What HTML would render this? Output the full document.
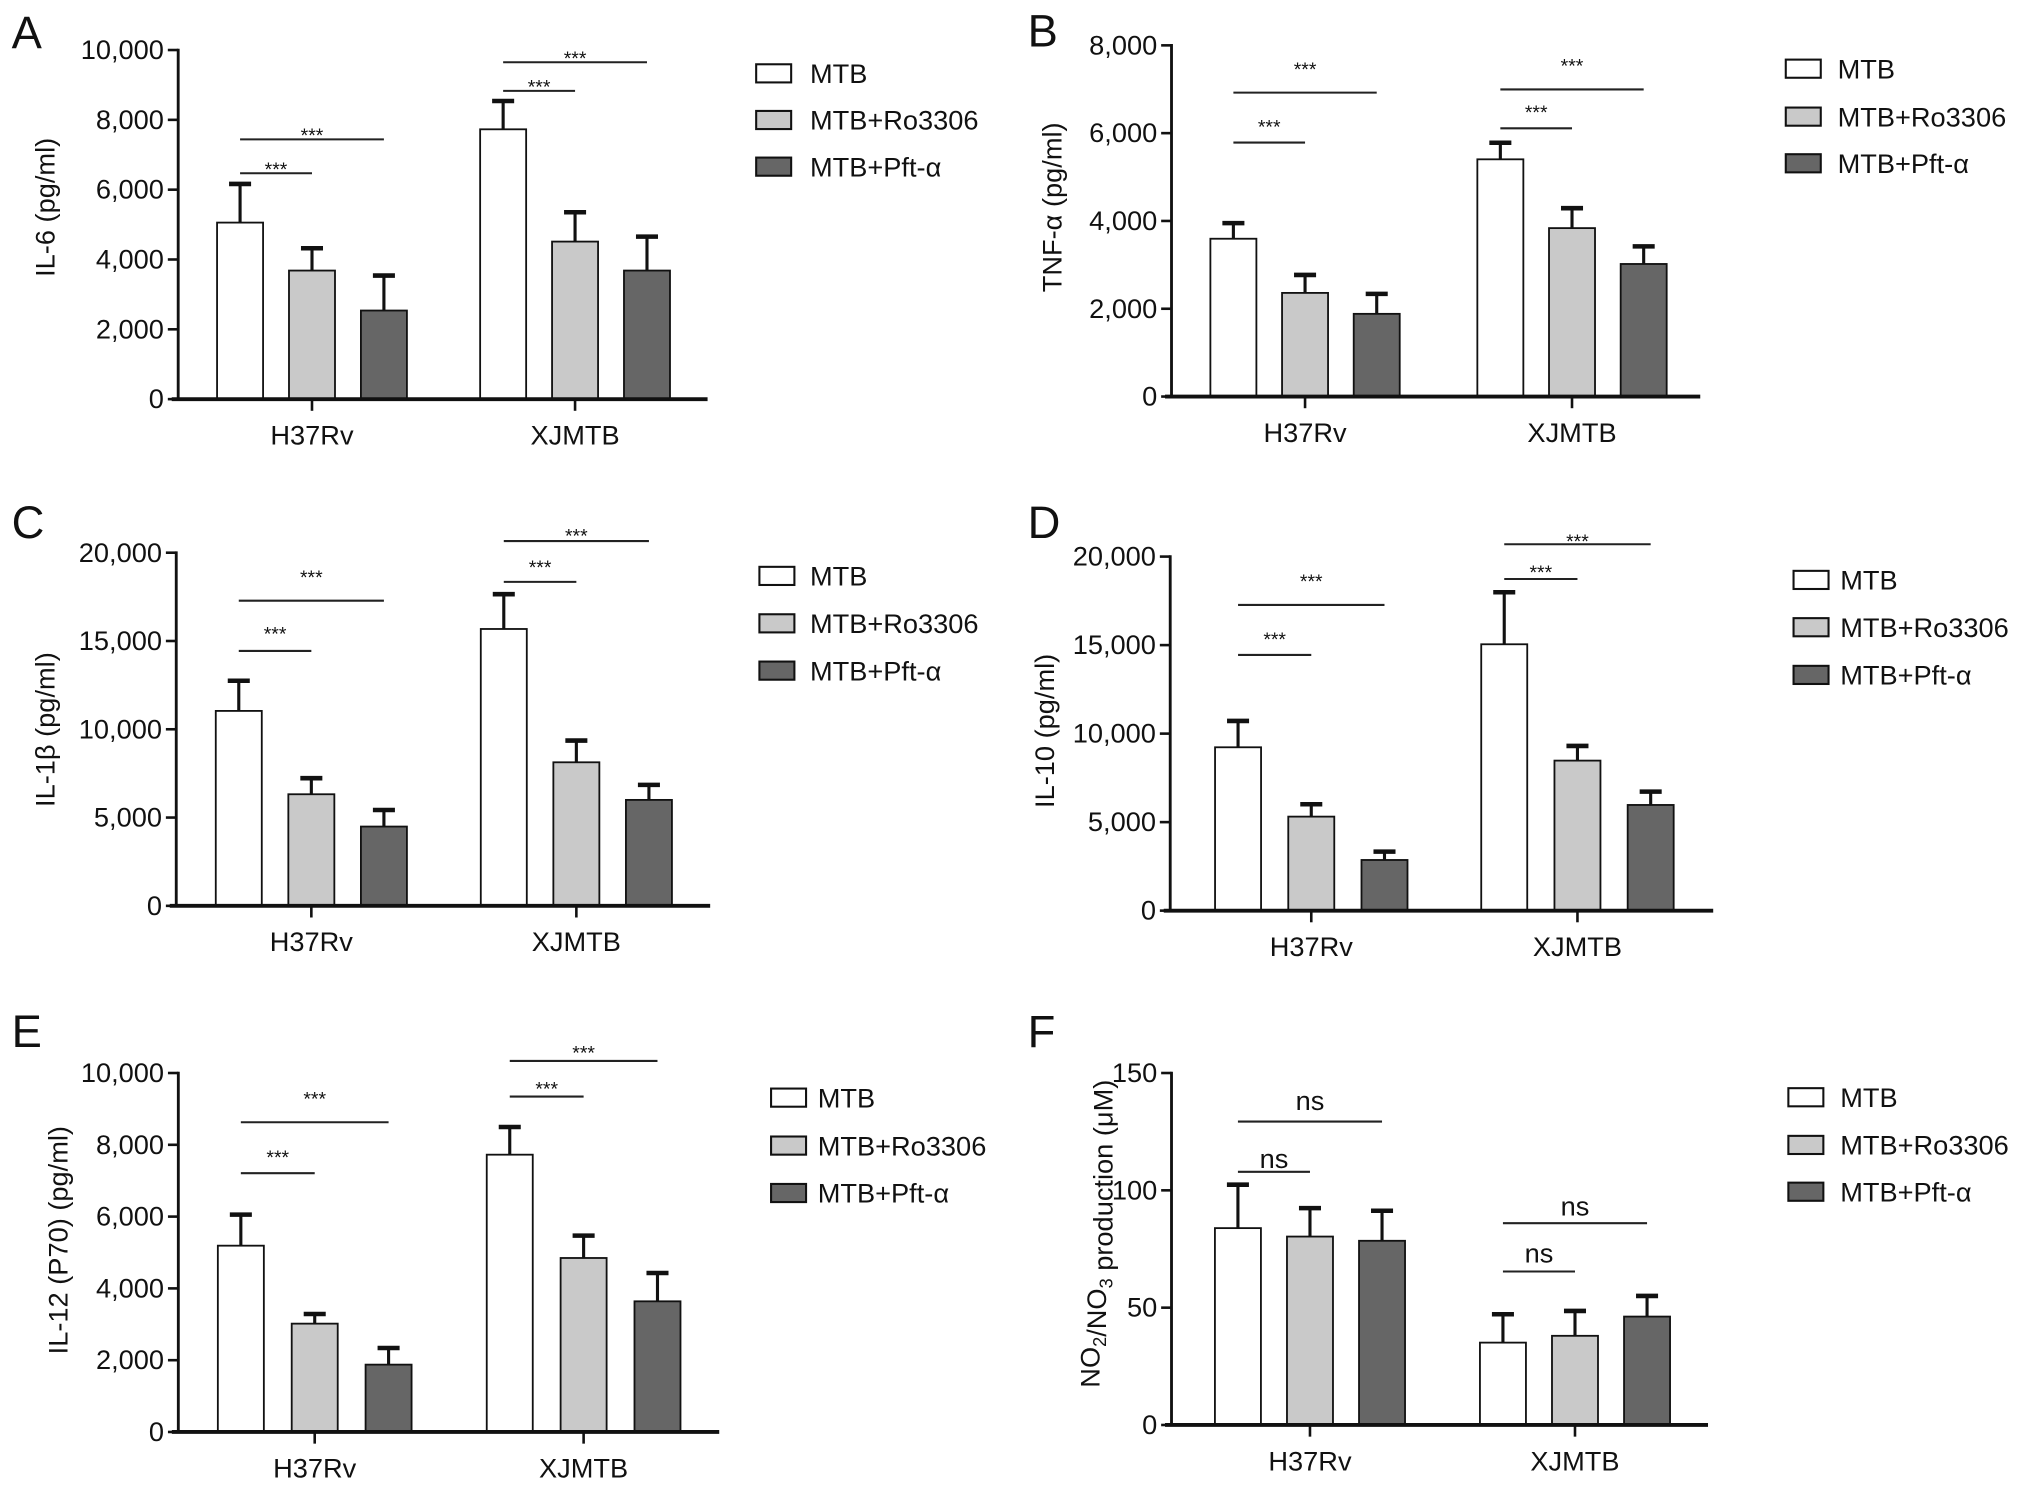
<!DOCTYPE html>
<html><head><meta charset="utf-8"><style>
html,body{margin:0;padding:0;background:#fff;}
svg{display:block;}
text{font-family:"Liberation Sans",Arial,sans-serif;fill:#111;}
</style></head><body>
<svg id="fig" width="2032" height="1489" viewBox="0 0 1568 1149" preserveAspectRatio="none" xmlns="http://www.w3.org/2000/svg"></svg>
<script>
// ---- shared categories ----
const groups = ["H37Rv", "XJMTB"];
const seriesNames = ["MTB", "MTB+Ro3306", "MTB+Pft-\u03b1"];

// ---- Panel A: IL-6 ----
const valsA = [[5057, 3683, 2538], [7729, 4513, 3683]];
const errA = [[1107, 640, 1002], [811, 840, 973]];
const tickValsA = [0, 2000, 4000, 6000, 8000, 10000];
const tickLabA = ["0", "2,000", "4,000", "6,000", "8,000", "10,000"];
const sigA = [[0, 1, 6470, "***"], [0, 2, 7440, "***"], [1, 1, 8830, "***"], [1, 2, 9650, "***"]];

// ---- Panel B: TNF-a ----
const valsB = [[3595, 2361, 1884], [5404, 3837, 3020]];
const errB = [[355, 409, 454], [377, 454, 401]];
const tickValsB = [0, 2000, 4000, 6000, 8000];
const tickLabB = ["0", "2,000", "4,000", "6,000", "8,000"];
const sigB = [[0, 1, 5786, "***"], [0, 2, 6923, "***"], [1, 1, 6110, "***"], [1, 2, 6996, "***"]];

// ---- Panel C: IL-1b ----
const valsC = [[11040, 6320, 4490], [15680, 8130, 6000]];
const errC = [[1710, 910, 940], [1970, 1230, 850]];
const tickValsC = [0, 5000, 10000, 15000, 20000];
const tickLabC = ["0", "5,000", "10,000", "15,000", "20,000"];
const sigC = [[0, 1, 14437, "***"], [0, 2, 17284, "***"], [1, 1, 18349, "***"], [1, 2, 20660, "***"]];

// ---- Panel D: IL-10 ----
const valsD = [[9228, 5311, 2862], [15047, 8475, 5970]];
const errD = [[1488, 697, 471], [2938, 828, 753]];
const tickValsD = [0, 5000, 10000, 15000, 20000];
const tickLabD = ["0", "5,000", "10,000", "15,000", "20,000"];
const sigD = [[0, 1, 14444, "***"], [0, 2, 17270, "***"], [1, 1, 18734, "***"], [1, 2, 20696, "***"]];

// ---- Panel E: IL-12 ----
const valsE = [[5190, 3018, 1876], [7725, 4847, 3640]];
const errE = [[864, 269, 464], [771, 622, 789]];
const tickValsE = [0, 2000, 4000, 6000, 8000, 10000];
const tickLabE = ["0", "2,000", "4,000", "6,000", "8,000", "10,000"];
const sigE = [[0, 1, 7210, "***"], [0, 2, 8628, "***"], [1, 1, 9343, "***"], [1, 2, 10336, "***"]];

// ---- Panel F: NO2/NO3 ----
const valsF = [[83.9, 80.3, 78.5], [35.1, 38.0, 46.2]];
const errF = [[18.5, 12.1, 12.8], [12.1, 10.6, 8.8]];
const tickValsF = [0, 50, 100, 150];
const tickLabF = ["0", "50", "100", "150"];
const sigF = [[0, 1, 107.9, "ns"], [0, 2, 129.3, "ns"], [1, 1, 65.4, "ns"], [1, 2, 86, "ns"]];

const NS = "http://www.w3.org/2000/svg";
const svg = document.getElementById("fig");
function mk(tag, attrs, parent) {
  const e = document.createElementNS(NS, tag);
  for (const k in attrs) e.setAttribute(k, attrs[k]);
  (parent || svg).appendChild(e);
  return e;
}
const fills = ["#ffffff", "#c9c9c9", "#666666"];

const panels = [
  {id:"a", letter:"A", lx:9, ly:37, ax:137.5, y0:308, yT:38.6, max:10000, b0:30, xj:233, step:55.5, end:546,
   vals:valsA, err:errA, tv:tickValsA, tl:tickLabA, sig:sigA, sigOff:[6,6,6,6], title:"IL-6 (pg/ml)", tx:35, ty:160,
   legX:583.5, legY:[56.6, 92.6, 128.6], legTX:625},
  {id:"b", letter:"B", lx:793, ly:36, ax:904, y0:306, yT:35, max:8000, b0:30, xj:236, step:55.3, end:1312,
   vals:valsB, err:errB, tv:tickValsB, tl:tickLabB, sig:sigB, sigOff:[15,21,15,21], title:"TNF-\u03b1 (pg/ml)", tx:812, ty:160,
   legX:1378, legY:[53, 90, 126], legTX:1418},
  {id:"c", letter:"C", lx:9, ly:415, ax:136, y0:699, yT:426.5, max:20000, b0:30.5, xj:235, step:56, end:548,
   vals:valsC, err:errC, tv:tickValsC, tl:tickLabC, sig:sigC, sigOff:[16,21,14,7], title:"IL-1\u03b2 (pg/ml)", tx:35, ty:563,
   legX:586, legY:[444.4, 481, 517.5], legTX:625},
  {id:"d", letter:"D", lx:793, ly:415, ax:903, y0:702.7, yT:429.5, max:20000, b0:34.6, xj:240, step:56.5, end:1322,
   vals:valsD, err:errD, tv:tickValsD, tl:tickLabD, sig:sigD, sigOff:[15,21,8,5], title:"IL-10 (pg/ml)", tx:806.5, ty:564,
   legX:1384, legY:[447.5, 484, 520.8], legTX:1420},
  {id:"e", letter:"E", lx:9, ly:808, ax:137.6, y0:1105, yT:828, max:10000, b0:30.5, xj:238, step:57, end:555,
   vals:valsE, err:errE, tv:tickValsE, tl:tickLabE, sig:sigE, sigOff:[15,21,9,9], title:"IL-12 (P70) (pg/ml)", tx:45, ty:957,
   legX:595, legY:[847, 884, 920.6], legTX:631},
  {id:"f", letter:"F", lx:793, ly:808, ax:904, y0:1099.6, yT:828, max:150, b0:33.5, xj:238, step:55.6, end:1318,
   vals:valsF, err:errF, tv:tickValsF, tl:tickLabF, sig:sigF, sigOff:[3,9,7,6], title:null, tx:841.5, ty:952,
   legX:1380, legY:[846.7, 883.5, 919.6], legTX:1420}
];

panels.forEach(p => {
  const g = mk("g", {});
  
  
  const yS = v => p.y0 - (v / p.max) * (p.y0 - p.yT);
  const barX = (gi, si) => p.ax + (gi === 0 ? p.b0 : p.xj) + si * p.step;
  const bw = 35.5;

  const letter = mk("text", {x:p.lx, y:p.ly, "font-size":35}, g);
  letter.textContent = p.letter;
  
  

  // y-axis
  const yax = mk("line", {x1:p.ax, y1:p.yT - 1, x2:p.ax, y2:p.y0, stroke:"#111", "stroke-width":2.2}, g);
  
  
  p.tv.forEach((v, i) => {
    const y = yS(v);
    const t = mk("line", {x1:p.ax - 8, y1:y, x2:p.ax, y2:y, stroke:"#111", "stroke-width":2}, g);
    
    
    const tl = mk("text", {x:p.ax - 11, y:y + 7, "font-size":21, "text-anchor":"end"}, g);
    tl.textContent = p.tl[i];
    
    
  });

  // y title
  const tt = mk("text", {x:0, y:0, "font-size":21, "text-anchor":"middle",
    transform:"translate(" + (p.tx + 7) + "," + p.ty + ") rotate(-90)"}, g);
  if (p.title) {
    tt.textContent = p.title;
  } else {
    const parts = [["NO", 0], ["2", 1], ["/NO", 0], ["3", 1], [" production (\u03bcM)", 0]];
    parts.forEach(pt => {
      const ts = mk("tspan", pt[1] ? {"font-size":14, dy:5} : {dy:0}, tt);
      ts.textContent = pt[0];
      if (pt[1]) { const back = mk("tspan", {dy:-5}, tt); back.textContent = ""; }
    });
  }
  
  

  // bars & errors
  groups.forEach((gn, gi) => {
    seriesNames.forEach((sn, si) => {
      const x = barX(gi, si), v = p.vals[gi][si], e = p.err[gi][si];
      const cx = x + bw / 2;
      const el = mk("line", {x1:cx, y1:yS(v), x2:cx, y2:yS(v + e), stroke:"#111", "stroke-width":2.4}, g);
      
      
      const cap = mk("line", {x1:cx - 8.5, y1:yS(v + e), x2:cx + 8.5, y2:yS(v + e), stroke:"#111", "stroke-width":3.5}, g);
      
      
      const r = mk("rect", {x:x, y:yS(v), width:bw, height:p.y0 - yS(v), fill:fills[si], stroke:"#111", "stroke-width":1.4}, g);
      
      
    });
    const gc = barX(gi, 1) + bw / 2;
    const xt = mk("line", {x1:gc, y1:p.y0, x2:gc, y2:p.y0 + 9, stroke:"#111", "stroke-width":2}, g);
    
    
    const xl = mk("text", {x:gc, y:p.y0 + 35, "font-size":21, "text-anchor":"middle"}, g);
    xl.textContent = gn;
    
    
  });

  // x-axis
  const xax = mk("line", {x1:p.ax - 5, y1:p.y0, x2:p.end, y2:p.y0, stroke:"#111", "stroke-width":3}, g);
  
  

  // significance
  p.sig.forEach((s, k) => {
    const x1 = barX(s[0], 0) + bw / 2, x2 = barX(s[0], s[1]) + bw / 2, y = yS(s[2]);
    const ln = mk("line", {x1:x1, y1:y, x2:x2, y2:y, stroke:"#222", "stroke-width":1.6}, g);
    
    
    const isNs = s[3] === "ns";
    const lt = mk("text", {x:(x1 + x2) / 2, y:isNs ? y - p.sigOff[k] : y - p.sigOff[k] + 8,
      "font-size":isNs ? 21 : 15, "text-anchor":"middle"}, g);
    lt.textContent = s[3];
    
    
  });

  // legend
  seriesNames.forEach((sn, si) => {
    const cy = p.legY[si];
    const lb = mk("rect", {x:p.legX, y:cy - 7, width:27, height:14, fill:fills[si], stroke:"#111", "stroke-width":1.6}, g);
    
    
    const lt = mk("text", {x:p.legTX, y:cy + 7.5, "font-size":21}, g);
    lt.textContent = sn;
    
    
  });
});
</script>
</body></html>
